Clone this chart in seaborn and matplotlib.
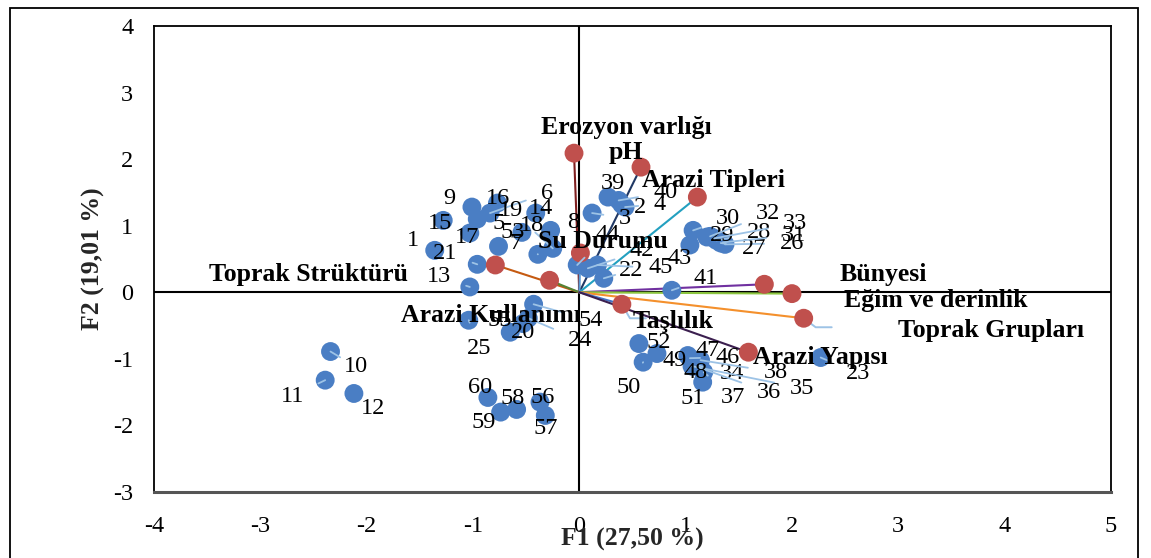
import matplotlib
matplotlib.use("Agg")
import matplotlib.pyplot as plt
from matplotlib.patches import Rectangle
import seaborn as sns
import pandas as pd

# Observation scores on the first two factors
obs_ids = [str(i) for i in range(1, 61)]
obs_f1 = [-1.36, 0.40, 0.12, 0.43, -0.96, -0.84, -0.76, -0.27, -1.01, -2.34,
          -2.39, -2.12, -1.03, -0.41, -1.28, -0.77, -1.03, -0.54, -0.25, -0.53,
          -0.96, 0.23, 2.27, -0.48, -1.04, 1.37, 1.33, 1.29, 1.20, 1.07,
          1.35, 1.23, 1.27, 1.12, 1.06, 1.14, 1.17, 1.14, 0.27, 0.37,
          0.87, 0.08, 1.04, -0.02, 0.17, 1.04, 1.02, 1.09, 0.73, 0.60,
          1.16, 0.56, -0.39, -0.43, -0.65, -0.37, -0.32, -0.59, -0.74, -0.86]
obs_f2 = [0.63, 1.32, 1.19, 1.28, 1.10, 1.19, 0.69, 0.93, 1.28, -0.89,
          -1.32, -1.52, 0.08, 1.19, 1.08, 1.34, 0.89, 0.90, 0.66, -0.47,
          0.42, 0.21, -0.98, -0.39, -0.42, 0.72, 0.74, 0.78, 0.83, 0.93,
          0.75, 0.84, 0.81, -1.10, -1.11, -1.14, -1.20, -1.02, 1.43, 1.38,
          0.03, 0.36, 0.71, 0.41, 0.41, -0.99, -0.95, -1.05, -0.92, -1.05,
          -1.35, -0.77, 0.57, -0.18, -0.60, -1.65, -1.85, -1.76, -1.80, -1.58]

# Variable loadings (scaled to the score space)
var_names = ["Erozyon varlığı", "pH", "Arazi Tipleri", "Su Durumu",
             "Toprak Strüktürü", "Arazi Kullanımı", "Bünyesi",
             "Eğim ve derinlik", "Toprak Grupları", "Taşlılık", "Arazi Yapısı"]
var_f1 = [-0.05, 0.58, 1.11, 0.01, -0.79, -0.28, 1.74, 2.00, 2.11, 0.40, 1.59]
var_f2 = [2.09, 1.88, 1.43, 0.59, 0.41, 0.18, 0.12, -0.02, -0.39, -0.18, -0.90]

x_ticks = [-4, -3, -2, -1, 0, 1, 2, 3, 4, 5]
y_ticks = [-3, -2, -1, 0, 1, 2, 3, 4]

obs = pd.DataFrame({"F1": obs_f1, "F2": obs_f2, "id": obs_ids})
var = pd.DataFrame({"F1": var_f1, "F2": var_f2, "name": var_names})

# Styling: line colour per variable, label offsets in pixels
var_colors = ["#7F1F1F", "#203864", "#23A0C0", "#5B9BD5", "#C55A11", "#548235",
              "#7030A0", "#8CC63F", "#F4902C", "#4472C4", "#3B1F4F"]
var_offsets = [(52, 26), (-15, 15), (16, 17), (22, 12), (-187, -10), (-59, -35),
               (119, 10), (144, -7), (187, -12), (51, -17), (72, -5)]
# elbow leader stubs (end offset in pixels, angle of the slanted part)
var_leaders = {"Toprak Grupları": ((28, -9), -37),
               "Taşlılık": ((24, -14), -60)}
obs_offsets = [(-22, 10), (18, -3), (33, -5), (35, 3), (21, -4), (57, 20), (17, 3),
               (23, 8), (-23, 9), (25, -15), (-33, -16), (19, -15), (-31, 10),
               (5, 5), (-3, -3), (1, 5), (-3, -4), (10, 7), (-42, 38), (0, -9),
               (-32, 11), (27, 8), (37, -16), (52, -22), (10, -28), (67, 1),
               (33, -5), (42, 8), (15, 2), (35, 12), (71, 7), (58, 23), (81, 15),
               (34, -8), (110, -22), (68, -24), (29, -25), (75, -12), (5, 14),
               (47, 8), (34, 12), (54, 18), (-10, -13), (30, 30), (63, -3),
               (38, 1), (20, 5), (0, -10), (18, -7), (-15, -25), (-10, -16),
               (20, 1), (-25, 22), (57, -16), (-10, 12), (3, 5), (0, -13),
               (-4, 11), (-17, -10), (-8, 10)]

sns.set_style("white")
plt.rcParams["font.family"] = ["Liberation Serif", "DejaVu Serif"]

W, H = 1151, 558
fig = plt.figure(figsize=(W / 100, H / 100), dpi=100)
ax = fig.add_axes([154 / W, (H - 492) / H, (1111 - 154) / W, (492 - 26) / H])

# Outer chart frame
fig.add_artist(Rectangle((10 / W, -0.05), 1128 / W, (H - 8) / H + 0.05,
                         transform=fig.transFigure, fill=False,
                         edgecolor="black", linewidth=1.3))

ax.axhline(0, color="black", lw=1.5, zorder=1)
ax.axvline(0, color="black", lw=1.5, zorder=1)

# Loading vectors from the origin
for (_, row), c in zip(var.iterrows(), var_colors):
    ax.plot([0, row.F1], [0, row.F2], color=c, lw=1.5, zorder=2)

leader = "#9DC3E6"
sns.scatterplot(data=obs, x="F1", y="F2", ax=ax, color="#4A7EC4", s=185,
                edgecolor="none", zorder=4, legend=False)
sns.scatterplot(data=var, x="F1", y="F2", ax=ax, color="#C0504D", s=185,
                edgecolor="none", zorder=5, legend=False)

for (_, row), (dx, dy) in zip(obs.iterrows(), obs_offsets):
    far = (dx * dx + dy * dy) ** 0.5 > 26
    ax.annotate(row.id, (row.F1, row.F2), xytext=(dx, dy),
                textcoords="offset pixels", ha="center", va="center",
                fontsize=17.5, color="black", zorder=6,
                arrowprops=dict(arrowstyle="-", color=leader, lw=1.3,
                                shrinkA=9, shrinkB=0) if far else None)

for (_, row), (dx, dy) in zip(var.iterrows(), var_offsets):
    name = row["name"]
    if name in var_leaders:
        end, ang = var_leaders[name]
        ax.annotate("", (row.F1, row.F2), xytext=end,
                    textcoords="offset pixels", zorder=3,
                    arrowprops=dict(arrowstyle="-", color=leader, lw=1.4,
                                    shrinkA=0, shrinkB=0,
                                    connectionstyle=f"angle,angleA=180,angleB={ang},rad=0"))
    ax.annotate(name, (row.F1, row.F2), xytext=(dx, dy),
                textcoords="offset pixels", ha="center", va="center",
                fontsize=18.5, fontweight="bold", color="black", zorder=7)

ax.set_xlim(-4, 5)
ax.set_ylim(-3, 4)
ax.set_xticks(x_ticks)
ax.set_yticks(y_ticks)
ax.set_xticklabels([str(t) for t in x_ticks])
ax.set_yticklabels([str(t) for t in y_ticks])
ax.tick_params(axis="both", length=0, labelsize=17.5, colors="black")
ax.tick_params(axis="x", pad=17)
ax.tick_params(axis="y", pad=15)

for s in ax.spines.values():
    s.set_visible(True)
    s.set_color("black")
    s.set_linewidth(1.3)
ax.spines["bottom"].set_linewidth(2.2)
ax.spines["bottom"].set_color("#555555")

ax.set_xlabel("F1 (27,50 %)", fontsize=18.5, fontweight="bold", labelpad=-6)
ax.set_ylabel("F2 (19,01 %)", fontsize=18.5, fontweight="bold", labelpad=6)

fig.savefig("out.png", dpi=100)
